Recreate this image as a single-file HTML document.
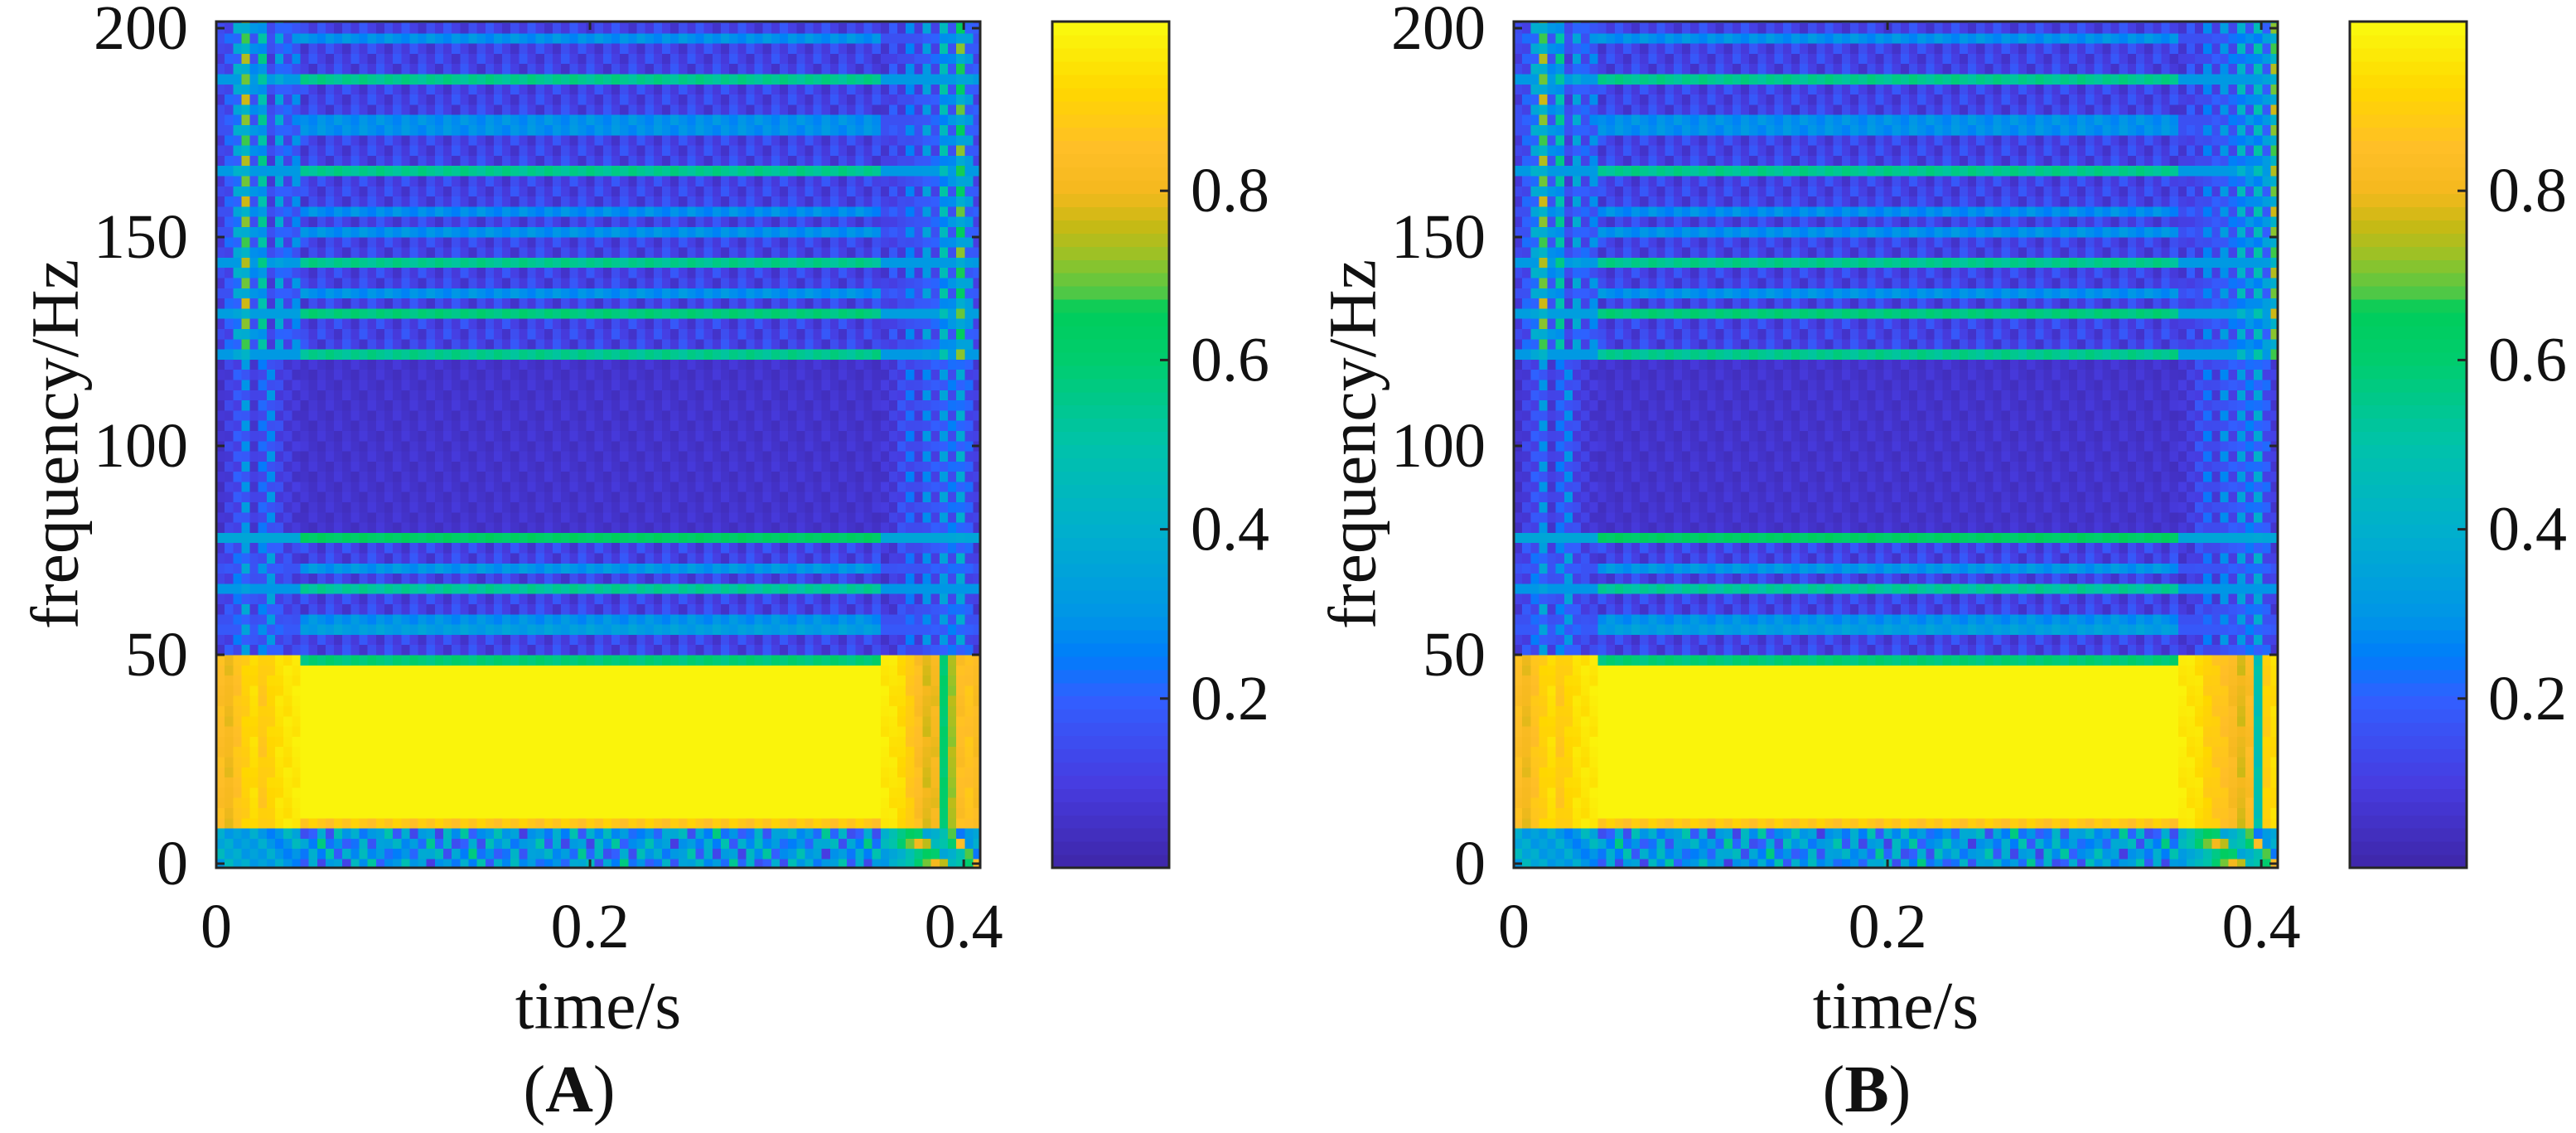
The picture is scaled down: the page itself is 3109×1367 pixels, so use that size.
<!DOCTYPE html>
<html><head><meta charset="utf-8">
<style>
html,body{margin:0;padding:0;background:#fff;}
svg{display:block;}
text{font-family:"Liberation Serif",serif;fill:#111;}
</style></head>
<body>
<svg id="fig" width="3109" height="1367" viewBox="0 0 3109 1367" xmlns="http://www.w3.org/2000/svg"></svg>
<script>
// ---- data ----
const xTicks = [0, 0.2, 0.4];
const xTickLabels = ["0", "0.2", "0.4"];
const yTicks = [0, 50, 100, 150, 200];
const yTickLabels = ["0", "50", "100", "150", "200"];
const cbTicks = [0.2, 0.4, 0.6, 0.8];
const cbTickLabels = ["0.2", "0.4", "0.6", "0.8"];
// center-region frequency bands (Hz) and magnitudes
const bandLow  = [196, 187.5, 178, 174, 165, 155.5, 151, 143.5, 134.5, 129.5, 121, 80, 77, 69, 65.5, 58.5, 54.5, 48.5, 11, 8.6];
const bandHigh = [198.5, 190, 180.5, 176.5, 167.5, 158, 153.5, 146, 137, 134, 123.5, 120, 79.5, 71.5, 68, 61, 57, 50.5, 48.5, 11];
const bandValue= [0.26, 0.52, 0.26, 0.26, 0.52, 0.25, 0.26, 0.52, 0.26, 0.55, 0.52, 0.04, 0.6, 0.27, 0.5, 0.26, 0.3, 0.56, 0.985, 0.85];
// left edge columns (t < 0.045 s), per zone
const leftUpper  = [0.15, 0.22, 0.4, 0.75, 0.3, 0.55, 0.15, 0.38, 0.22, 0.3];
const leftMid    = [0.08, 0.14, 0.2, 0.32, 0.12, 0.24, 0.3, 0.16, 0.12, 0.1];
const leftLow    = [0.86, 0.82, 0.88, 0.92, 0.95, 0.9, 0.93, 0.96, 0.97, 0.98];
const leftBottom = [0.3, 0.45, 0.35, 0.4, 0.3, 0.35, 0.3, 0.4, 0.3, 0.25];
// right edge columns (t > 0.357 s), per zone
const rightUpper  = [0.12, 0.2, 0.15, 0.28, 0.18, 0.35, 0.22, 0.5, 0.3, 0.7, 0.35, 0.2];
const rightMid    = [0.1, 0.12, 0.18, 0.25, 0.15, 0.3, 0.2, 0.35, 0.25, 0.4, 0.22, 0.12];
const rightLow    = [0.98, 0.97, 0.95, 0.9, 0.86, 0.8, 0.82, 0.62, 0.75, 0.86, 0.88, 0.84];
const rightBottom = [0.3, 0.4, 0.45, 0.5, 0.6, 0.7, 0.8, 0.75, 0.45, 0.5, 0.6, 0.85];
const rightUpperB = [0.12, 0.2, 0.15, 0.28, 0.2, 0.32, 0.25, 0.45, 0.3, 0.5, 0.35, 0.75];
const rightLowB   = [0.98, 0.97, 0.96, 0.92, 0.9, 0.88, 0.84, 0.8, 0.85, 0.5, 0.92, 0.95];
const bottomNoise = [0.2, 0.3, 0.12, 0.35, 0.25, 0.4, 0.15, 0.28, 0.22, 0.45, 0.18, 0.3, 0.1];
const texture = [0.0, 0.09, 0.03, 0.12, 0.05];
// colormap anchors (parula-like)
const cmapStops = [0, 0.1, 0.2, 0.25, 0.3, 0.4, 0.5, 0.6, 0.66, 0.68, 0.72, 0.76, 0.8, 0.85, 0.92, 1.0];
const cmapColors = [[62,38,168],[71,60,225],[50,95,255],[0,125,250],[0,150,230],[0,175,205],[0,195,170],[0,205,110],[0,205,90],[80,200,70],[150,195,40],[200,185,20],[245,185,30],[255,190,40],[255,215,0],[249,251,14]];

const NS = "http://www.w3.org/2000/svg";
const svg = document.getElementById("fig");
function mk(tag, attrs, parent){ const e=document.createElementNS(NS,tag); for(const k in attrs) e.setAttribute(k,attrs[k]); (parent||svg).appendChild(e); return e; }
function cmap(v){
  v=Math.max(0,Math.min(1,v));
  for(let i=1;i<cmapStops.length;i++){
    if(v<=cmapStops[i]){
      const a=cmapStops[i-1], b=cmapStops[i], t=(v-a)/(b-a);
      const c0=cmapColors[i-1], c1=cmapColors[i];
      return "rgb("+c0.map((c,j)=>Math.round(c+(c1[j]-c)*t)).join(",")+")";
    }
  }
  return "rgb(249,251,14)";
}
const rowHz=2.44, fMin=-1.22, nRows=84, colT=0.0045, nCols=91, tStart=0.045, tEnd=0.357;
function bandVal(f){ for(let i=0;i<bandLow.length;i++) if(f>=bandLow[i]&&f<bandHigh[i]) return bandValue[i]; return null; }
function edgeVal(base,r,c,bv){
  const alt=((r+c)%2===0)?1.0:0.55;
  let v=base*alt*(0.9+texture[(r*2+c)%texture.length]);
  if(bv!==null && bv<0.9 && bv>0.1) v=Math.max(v,bv*0.6);
  return v;
}
function cellValue(r,c,f,t,rUp,rLow){
  const tex = texture[(r*3+c)%texture.length];
  const bv = bandVal(f);
  if(t<tStart){
    const i=Math.min(leftUpper.length-1,Math.floor(t/colT));
    if(f>121) return edgeVal(leftUpper[i],r,c,bv);
    if(f>50) return edgeVal(leftMid[i]+(f>80&&f<120?0:0.05),r,c,bv);
    if(f>8.6) return leftLow[i]-tex*0.3;
    return leftBottom[(i+r)%leftBottom.length];
  }
  if(t>tEnd){
    const i=Math.min(rUp.length-1,Math.floor((t-tEnd)/colT));
    if(f>121) return edgeVal(rUp[i],r,c,bv);
    if(f>50) return edgeVal(rightMid[i],r,c,bv);
    if(f>8.6) return rLow[i]-tex*0.3;
    return rightBottom[(i+r)%rightBottom.length]*(r%2?0.8:1);
  }
  if(f<8.6) return bottomNoise[(c+r*5)%bottomNoise.length]+tex;
  if(bv!==null){ if(bv>0.9) return bv; if(bv<0.1) return bv+tex*0.4; return bv+tex*0.5; }
  return 0.06+tex;
}
function panel(ox, label, rUp, rLow, key){
  const L=261+ox, R=1183+ox, T=26, B=1047, cbL=1270+ox, cbR=1411+ox;
  const xs=t=>L+(t/0.4088)*(R-L);
  const ys=f=>1042-f*5.04;
  const g=mk("g",{});
  
  
  const hm=mk("g",{"shape-rendering":"crispEdges"},g);
  
  
  for(let c=0;c<nCols;c++){
    const t0=c*colT, tc=t0+colT/2;
    const x0=xs(t0), x1=Math.min(R,xs(t0+colT));
    for(let r=0;r<nRows;r++){
      const f0=fMin+r*rowHz, fc=f0+rowHz/2;
      const y1=Math.min(B,ys(f0)), y0=Math.max(T,ys(f0+rowHz));
      if(y1<=y0) continue;
      const v=cellValue(r,c,fc,tc,rUp,rLow);
      const cell=mk("rect",{x:x0.toFixed(1),y:y0.toFixed(1),width:(x1-x0+0.6).toFixed(1),height:(y1-y0+0.6).toFixed(1),fill:cmap(v)},hm);
      
      
    }
  }
  const frame=mk("rect",{x:L,y:T,width:R-L,height:B-T,fill:"none",stroke:"#262626","stroke-width":3},g);
  
  
  xTicks.forEach((v,i)=>{
    const x=xs(v);
    mk("line",{x1:x,x2:x,y1:B,y2:B-10,stroke:"#262626","stroke-width":3},g);
    mk("line",{x1:x,x2:x,y1:T,y2:T+10,stroke:"#262626","stroke-width":3},g);
    const tx=mk("text",{x:x,y:1118,"font-size":76,"text-anchor":"middle","dominant-baseline":"central"},g);
    tx.textContent=xTickLabels[i];
    
    
  });
  yTicks.forEach((v,i)=>{
    const y=ys(v);
    mk("line",{x1:L,x2:L+10,y1:y,y2:y,stroke:"#262626","stroke-width":3},g);
    mk("line",{x1:R,x2:R-10,y1:y,y2:y,stroke:"#262626","stroke-width":3},g);
    const tx=mk("text",{x:227+ox,y:y,"font-size":76,"text-anchor":"end","dominant-baseline":"central"},g);
    tx.textContent=yTickLabels[i];
    
    
  });
  const yl=mk("text",{x:0,y:0,"font-size":82,"text-anchor":"middle","dominant-baseline":"central",transform:"translate("+(66+ox)+",536) rotate(-90)"},g);
  yl.textContent="frequency/Hz";
  
  
  const xl=mk("text",{x:722+ox,y:1213,"font-size":82,"text-anchor":"middle","dominant-baseline":"central"},g);
  xl.textContent="time/s";
  
  
  const pl=mk("text",{x:687+ox,y:1315,"font-size":80,"text-anchor":"middle","dominant-baseline":"central"},g);
  pl.innerHTML='(<tspan font-weight="bold">'+label+'</tspan>)';
  
  
  // colorbar
  const cb=mk("g",{"shape-rendering":"crispEdges"},g);
  
  
  const cy=v=>B-v*(B-T);
  for(let k=0;k<64;k++){
    const v0=k/64, v1=(k+1)/64;
    mk("rect",{x:cbL,y:cy(v1),width:cbR-cbL,height:cy(v0)-cy(v1)+0.6,fill:cmap((v0+v1)/2)},cb);
  }
  mk("rect",{x:cbL,y:T,width:cbR-cbL,height:B-T,fill:"none",stroke:"#262626","stroke-width":3},g);
  cbTicks.forEach((v,i)=>{
    const y=cy(v);
    mk("line",{x1:cbR,x2:cbR-11,y1:y,y2:y,stroke:"#262626","stroke-width":3},g);
    const tx=mk("text",{x:cbL+167,y:y,"font-size":76,"text-anchor":"start","dominant-baseline":"central"},g);
    tx.textContent=cbTickLabels[i];
    
    
  });
}
panel(0,"A",rightUpper,rightLow,"a");
panel(1566,"B",rightUpperB,rightLowB,"b");
</script>
</body></html>
